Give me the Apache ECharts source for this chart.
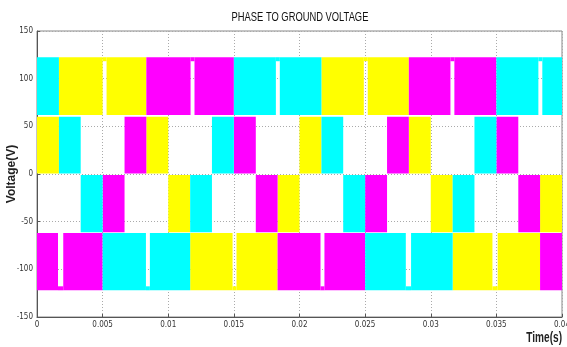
<!DOCTYPE html>
<html>
<head>
  <meta charset="utf-8">
  <title>Phase to ground voltage</title>
  <style>
    html, body { margin: 0; padding: 0; background: #fff; }
    #main { width: 567px; height: 347px; }
  </style>
</head>
<body>
  <div id="main"></div>
  <script src="https://cdn.jsdelivr.net/npm/echarts@6/dist/echarts.min.js"></script>
  <script>
    // voltage bands the PWM output of one phase switches inside (V)
    const bands = {
      op: [62, 122.5],   // between +60 and +120
      ip: [0.5, 60],     // between 0 and +60
      in: [-61, -1],     // between -60 and 0
      on: [-122, -62]    // between -120 and -60
    };

    // [start (s), end (s), band, notch start, notch end]
    const yellowSegs = [
      [0, 0.00167, 'ip'],
      [0.00167, 0.00833, 'op', 0.0050, 0.0053],
      [0.00833, 0.0100, 'ip'],
      [0.0100, 0.01167, 'in'],
      [0.01167, 0.01833, 'on', 0.0149, 0.0152],
      [0.01833, 0.0200, 'in'],
      [0.0200, 0.02167, 'ip'],
      [0.02167, 0.02833, 'op', 0.0249, 0.0252],
      [0.02833, 0.0300, 'ip'],
      [0.0300, 0.03167, 'in'],
      [0.03167, 0.03833, 'on', 0.0347, 0.0351],
      [0.03833, 0.0400, 'in']
    ];
    const magentaSegs = [
      [0, 0.0050, 'on', 0.0016, 0.0020],
      [0.0050, 0.00667, 'in'],
      [0.00667, 0.00833, 'ip'],
      [0.00833, 0.0150, 'op', 0.0117, 0.0120],
      [0.0150, 0.01667, 'ip'],
      [0.01667, 0.01833, 'in'],
      [0.01833, 0.0250, 'on', 0.0216, 0.0219],
      [0.0250, 0.02667, 'in'],
      [0.02667, 0.02833, 'ip'],
      [0.02833, 0.0350, 'op', 0.0315, 0.0318],
      [0.0350, 0.03667, 'ip'],
      [0.03667, 0.03833, 'in'],
      [0.03833, 0.0400, 'on']
    ];
    const cyanSegs = [
      [0, 0.00167, 'op'],
      [0.00167, 0.00333, 'ip'],
      [0.00333, 0.0050, 'in'],
      [0.0050, 0.01167, 'on', 0.0083, 0.0086],
      [0.01167, 0.01333, 'in'],
      [0.01333, 0.0150, 'ip'],
      [0.0150, 0.02167, 'op', 0.0182, 0.0185],
      [0.02167, 0.02333, 'ip'],
      [0.02333, 0.0250, 'in'],
      [0.0250, 0.03167, 'on', 0.0281, 0.0285],
      [0.03167, 0.03333, 'in'],
      [0.03333, 0.0350, 'ip'],
      [0.0350, 0.0400, 'op', 0.0382, 0.0385]
    ];

    const xTickLabels = ['0', '0.005', '0.01', '0.015', '0.02', '0.025', '0.03', '0.035', '0.04'];
    const yTickLabels = ['-150', '-100', '-50', '0', '50', '100', '150'];

    const narrow = "'DejaVu Sans Condensed', 'Liberation Sans Narrow', 'Liberation Sans', Arial, sans-serif";

    function toData(segs) {
      return segs.map(s => [s[0], s[1], bands[s[2]][0], bands[s[2]][1],
        s[3] == null ? 0 : s[3], s[4] == null ? 0 : s[4]]);
    }

    function renderBlock(params, api) {
      const t0 = api.value(0), t1 = api.value(1);
      const lo = api.value(2), hi = api.value(3);
      const n0 = api.value(4), n1 = api.value(5);
      const style = api.style({ stroke: null });
      const cs = params.coordSys;
      const clip = r => echarts.graphic.clipRectByRect(r, cs);
      const rectOf = (a, b) => {
        const p0 = api.coord([a, hi]);
        const p1 = api.coord([b, lo]);
        return clip({ x: p0[0], y: p0[1], width: p1[0] - p0[0], height: p1[1] - p0[1] });
      };
      const children = [];
      if (n1 > n0) {
        [rectOf(t0, n0), rectOf(n1, t1)].forEach(r => {
          if (r) children.push({ type: 'rect', shape: r, style: style });
        });
        // thin strip kept at the outer level across the notch
        const p0 = api.coord([n0, hi]);
        const p1 = api.coord([n1, lo]);
        const capH = 4;
        const y = hi > 0 ? p0[1] : p1[1] - capH;
        children.push({ type: 'rect', shape: { x: p0[0], y: y, width: p1[0] - p0[0], height: capH }, style: style });
      } else {
        const r = rectOf(t0, t1);
        if (r) children.push({ type: 'rect', shape: r, style: style });
      }
      return { type: 'group', children: children };
    }

    function phaseSeries(name, color, segs) {
      return {
        name: name,
        type: 'custom',
        renderItem: renderBlock,
        itemStyle: { color: color },
        encode: { x: [0, 1], y: [2, 3] },
        data: toData(segs),
        animation: false,
        silent: true
      };
    }

    const chart = echarts.init(document.getElementById('main'));
    chart.setOption({
      animation: false,
      graphic: [
        {
          type: 'text', x: 300, y: 11, scaleX: 0.72,
          style: {
            text: 'PHASE TO GROUND VOLTAGE', align: 'center', verticalAlign: 'top',
            font: 'normal 13px Liberation Sans, Arial, sans-serif', fill: '#111'
          }
        },
        {
          type: 'text', x: 562, y: 331, scaleX: 0.72,
          style: {
            text: 'Time(s)', align: 'right', verticalAlign: 'top',
            font: 'bold 14px Liberation Sans, Arial, sans-serif', fill: '#222'
          }
        }
      ],
      grid: {
        left: 37, right: 5, top: 31, bottom: 30,
        outerBoundsMode: 'none', containLabel: false,
        show: true, borderColor: '#888', borderWidth: 1
      },
      xAxis: {
        type: 'value', min: 0, max: 0.04, interval: 0.005,
        axisLine: { onZero: false, lineStyle: { color: '#555' } },
        axisTick: { inside: true, length: 3, lineStyle: { color: '#555' } },
        axisLabel: {
          fontFamily: narrow, fontSize: 8, color: '#333', margin: 4,
          formatter: (v, i) => xTickLabels[i]
        },
        splitLine: { show: true, lineStyle: { color: '#aaa', type: [1, 2] } }
      },
      yAxis: {
        type: 'value', min: -150, max: 150, interval: 50,
        name: 'Voltage(V)', nameLocation: 'middle', nameGap: 19, nameRotate: 90,
        nameMoveOverlap: false,
        nameTextStyle: { fontFamily: 'Liberation Sans, Arial, sans-serif', fontSize: 12, fontWeight: 'bold', color: '#222' },
        axisLine: { show: true, lineStyle: { color: '#555' } },
        axisTick: { show: true, inside: true, length: 3, lineStyle: { color: '#555' } },
        axisLabel: {
          fontFamily: narrow, fontSize: 8, color: '#333', margin: 4,
          formatter: (v, i) => yTickLabels[i]
        },
        splitLine: { show: true, lineStyle: { color: '#aaa', type: [1, 2] } }
      },
      series: [
        phaseSeries('Va', '#ffff00', yellowSegs),
        phaseSeries('Vb', '#ff00ff', magentaSegs),
        phaseSeries('Vc', '#00ffff', cyanSegs)
      ]
    });
  </script>
</body>
</html>
